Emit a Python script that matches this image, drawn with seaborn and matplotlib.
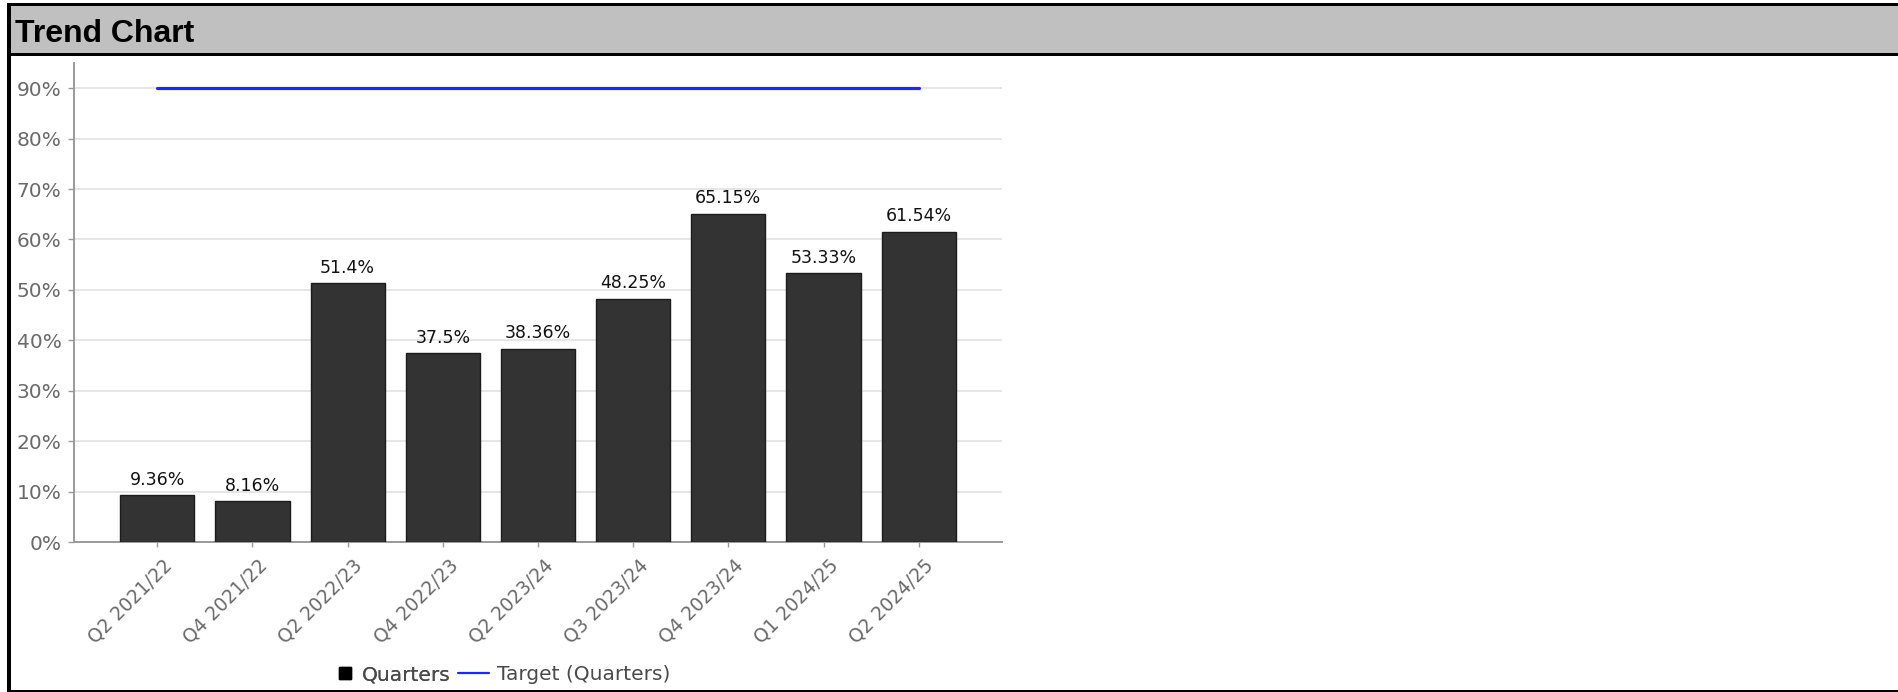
import matplotlib
matplotlib.use("Agg")
import matplotlib.pyplot as plt
from matplotlib.patches import Rectangle
from matplotlib.lines import Line2D
from matplotlib.transforms import ScaledTranslation
import seaborn as sns
import pandas as pd

# ---- data ----
categories = ["Q2 2021/22", "Q4 2021/22", "Q2 2022/23", "Q4 2022/23", "Q2 2023/24",
              "Q3 2023/24", "Q4 2023/24", "Q1 2024/25", "Q2 2024/25"]
quarters = [9.36, 8.16, 51.4, 37.5, 38.36, 48.25, 65.15, 53.33, 61.54]
target = [90, 90, 90, 90, 90, 90, 90, 90, 90]
ytick_values = [0, 10, 20, 30, 40, 50, 60, 70, 80, 90]
ytick_labels = ["0%", "10%", "20%", "30%", "40%", "50%", "60%", "70%", "80%", "90%"]
title = "Trend Chart"
legend_labels = ["Quarters", "Target (Quarters)"]

df = pd.DataFrame({"cat": categories, "val": quarters, "target": target})

sns.set_style("white")
plt.rcParams["font.family"] = ["DejaVu Sans"]

W, H = 1898, 692
fig = plt.figure(figsize=(W / 100, H / 100), dpi=100)

def px_rect(x0, y0, x1, y1, color):
    fig.patches.append(Rectangle((x0 / W, 1 - y1 / H), (x1 - x0) / W, (y1 - y0) / H,
                                 transform=fig.transFigure, facecolor=color,
                                 edgecolor="none", zorder=0))

# frame and title bar
px_rect(10, 6, W, 53, "#c0c0c0")
px_rect(7, 3, W, 6, "black")
px_rect(7, 53, W, 56, "black")
px_rect(7, 3, 11, H, "black")
px_rect(7, 690, W, H, "black")
fig.text(15 / W, 1 - 42 / H, title, fontsize=23, fontweight="bold",
         family="Liberation Sans", ha="left", va="baseline", color="black")

# axes
left, right, top, bottom = 74, 1002, 63, 542
ax = fig.add_axes([left / W, 1 - bottom / H, (right - left) / W, (bottom - top) / H])
ax.set_facecolor("white")

sns.barplot(data=df, x="cat", y="val", color="#333333", saturation=1, width=0.78,
            edgecolor="#1c1c1c", linewidth=1, ax=ax, zorder=3)
sns.lineplot(data=df, x="cat", y="target", color="#2323ff", linewidth=2.3, sort=False,
             ax=ax, zorder=4)

for i, v in enumerate(quarters):
    ax.annotate(f"{v:g}%", (i, v), xytext=(0, 4.5), textcoords="offset points",
                ha="center", va="bottom", fontsize=12.5, color="#111111", zorder=5)

ax.set_xlim(-0.875, 8.875)
ax.set_ylim(0, 95)
ax.set_yticks(ytick_values)
ax.set_yticklabels(ytick_labels)
ax.set_xlabel("")
ax.set_ylabel("")
ax.grid(axis="y", color="#e2e2e2", linewidth=1.2, zorder=0)
ax.grid(axis="x", visible=False)
ax.set_axisbelow(True)

for s in ["top", "right"]:
    ax.spines[s].set_visible(False)
for s in ["left", "bottom"]:
    ax.spines[s].set_color("#9a9a9a")
    ax.spines[s].set_linewidth(1.4)

ax.tick_params(axis="y", length=4.5, width=1, color="#9a9a9a", pad=4.5,
               labelsize=14.5, labelcolor="#6a6a6a", left=True)
ax.tick_params(axis="x", length=3.5, width=1, color="#9a9a9a", pad=11,
               labelsize=13.5, labelcolor="#6a6a6a", bottom=True)
offset = ScaledTranslation(12 / 100, 0, fig.dpi_scale_trans)
for lab in ax.get_xticklabels():
    lab.set_rotation(45)
    lab.set_ha("right")
    lab.set_va("center")
    lab.set_rotation_mode("anchor")
    lab.set_transform(lab.get_transform() + offset)

if ax.get_legend() is not None:
    ax.get_legend().remove()

ly = 1 - 675 / H
h_sq = Line2D([], [], linestyle="none", marker="s", markersize=8.2,
              markerfacecolor="black", markeredgecolor="black")
h_ln = Line2D([], [], color="#2323ff", linewidth=1.6)
common = dict(loc="center left", frameon=False, fontsize=14.5, borderpad=0,
              borderaxespad=0, labelcolor="#4a4a4a")
leg1 = fig.legend([h_sq], [legend_labels[0]], bbox_to_anchor=(340 / W, ly),
                  handlelength=0.5, handletextpad=0.6, **common)
fig.add_artist(leg1)
leg2 = fig.legend([h_ln], [legend_labels[1]], bbox_to_anchor=(458 / W, ly),
                  handlelength=1.55, handletextpad=0.4, **common)

fig.savefig("out.png", dpi=100)
